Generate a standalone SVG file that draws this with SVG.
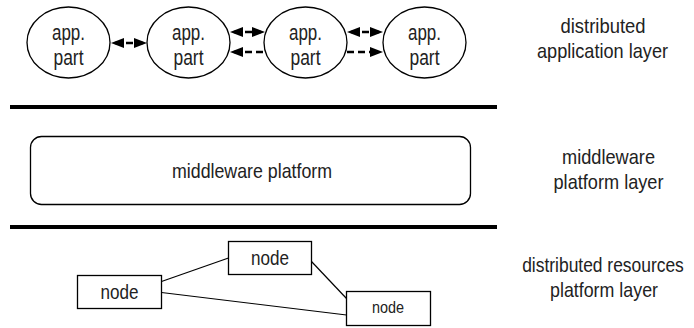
<svg xmlns="http://www.w3.org/2000/svg" width="694" height="328" viewBox="0 0 694 328">
  <style>
    .shape { fill: #fff; stroke: #000; stroke-width: 1.3; }
    .bar { stroke: #000; stroke-width: 4; }
    .link { stroke: #000; stroke-width: 1.2; fill: none; }
    .flow { stroke: #000; stroke-width: 2.6; stroke-dasharray: 7 4; fill: none; }
    text { font-family: "Liberation Sans", Arial, sans-serif; font-size: 21px; fill: #222; text-anchor: middle; }
    .part { font-size: 22px; }
    .small { font-size: 16px; }
  </style>
  <defs>
    <marker id="head" viewBox="0 0 13 10" refX="9" refY="5" markerWidth="13" markerHeight="10" markerUnits="userSpaceOnUse" orient="auto-start-reverse">
      <path d="M0,0 L13,5 L0,10 z" fill="#000"/>
    </marker>
  </defs>

  <!-- application parts -->
  <g id="app1">
    <ellipse class="shape" cx="68.5" cy="42.5" rx="41.5" ry="35.5"/>
    <text class="part" x="68.5" y="40" textLength="33" lengthAdjust="spacingAndGlyphs">app.</text>
    <text class="part" x="68.5" y="65" textLength="30" lengthAdjust="spacingAndGlyphs">part</text>
  </g>
  <g id="app2">
    <ellipse class="shape" cx="188.5" cy="42.5" rx="41.5" ry="35.5"/>
    <text class="part" x="188.5" y="40" textLength="33" lengthAdjust="spacingAndGlyphs">app.</text>
    <text class="part" x="188.5" y="65" textLength="30" lengthAdjust="spacingAndGlyphs">part</text>
  </g>
  <g id="app3">
    <ellipse class="shape" cx="305.5" cy="42.5" rx="41.5" ry="35.5"/>
    <text class="part" x="305.5" y="40" textLength="33" lengthAdjust="spacingAndGlyphs">app.</text>
    <text class="part" x="305.5" y="65" textLength="30" lengthAdjust="spacingAndGlyphs">part</text>
  </g>
  <g id="app4">
    <ellipse class="shape" cx="424.5" cy="42.5" rx="41.5" ry="35.5"/>
    <text class="part" x="424.5" y="40" textLength="33" lengthAdjust="spacingAndGlyphs">app.</text>
    <text class="part" x="424.5" y="65" textLength="30" lengthAdjust="spacingAndGlyphs">part</text>
  </g>

  <!-- layer separators -->
  <g id="separators">
    <line class="bar" x1="10" y1="107" x2="497" y2="107"/>
    <line class="bar" x1="10" y1="227" x2="497" y2="227"/>
  </g>

  <!-- middleware -->
  <g id="middleware">
    <rect class="shape" x="30.5" y="136.5" width="440" height="68" rx="11"/>
    <text x="252" y="178" textLength="160" lengthAdjust="spacingAndGlyphs">middleware platform</text>
  </g>

  <!-- resource nodes -->
  <g id="nodeA">
    <rect class="shape" x="77.5" y="275.5" width="84" height="33"/>
    <text x="119.5" y="299" textLength="38" lengthAdjust="spacingAndGlyphs">node</text>
  </g>
  <g id="nodeB">
    <rect class="shape" x="228.5" y="241.5" width="83" height="33"/>
    <text x="270" y="265" textLength="38" lengthAdjust="spacingAndGlyphs">node</text>
  </g>
  <g id="nodeC">
    <rect class="shape" x="346.5" y="291.5" width="84" height="34"/>
    <text class="small" x="388" y="313" textLength="32" lengthAdjust="spacingAndGlyphs">node</text>
  </g>

  <!-- connectors -->
  <g id="connectors">
    <line class="flow" x1="115" y1="43" x2="143" y2="43" marker-start="url(#head)" marker-end="url(#head)"/>
    <line class="flow" x1="234" y1="32" x2="261" y2="32" marker-start="url(#head)" marker-end="url(#head)"/>
    <line class="flow" x1="234" y1="52" x2="264" y2="52" marker-start="url(#head)"/>
    <line class="flow" x1="351" y1="32" x2="379" y2="32" marker-start="url(#head)" marker-end="url(#head)"/>
    <line class="flow" x1="347" y1="52" x2="379" y2="52" marker-end="url(#head)"/>
    <line class="link" x1="161.5" y1="281.5" x2="228.5" y2="258"/>
    <line class="link" x1="161.5" y1="292.5" x2="346.5" y2="315"/>
    <line class="link" x1="311.5" y1="261.5" x2="346.5" y2="298.5"/>
  </g>

  <!-- layer labels -->
  <g id="labels">
    <text x="603" y="33" textLength="85" lengthAdjust="spacingAndGlyphs">distributed</text>
    <text x="602.5" y="58" textLength="131" lengthAdjust="spacingAndGlyphs">application layer</text>
    <text x="608.5" y="164" textLength="93" lengthAdjust="spacingAndGlyphs">middleware</text>
    <text x="608.5" y="189" textLength="110" lengthAdjust="spacingAndGlyphs">platform layer</text>
    <!-- condensed with a horizontal scale so the long line stays inside the right edge -->
    <text transform="translate(603 272) scale(0.83 1)" x="0" y="0">distributed resources</text>
    <text x="604" y="297" textLength="108" lengthAdjust="spacingAndGlyphs">platform layer</text>
  </g>
</svg>
